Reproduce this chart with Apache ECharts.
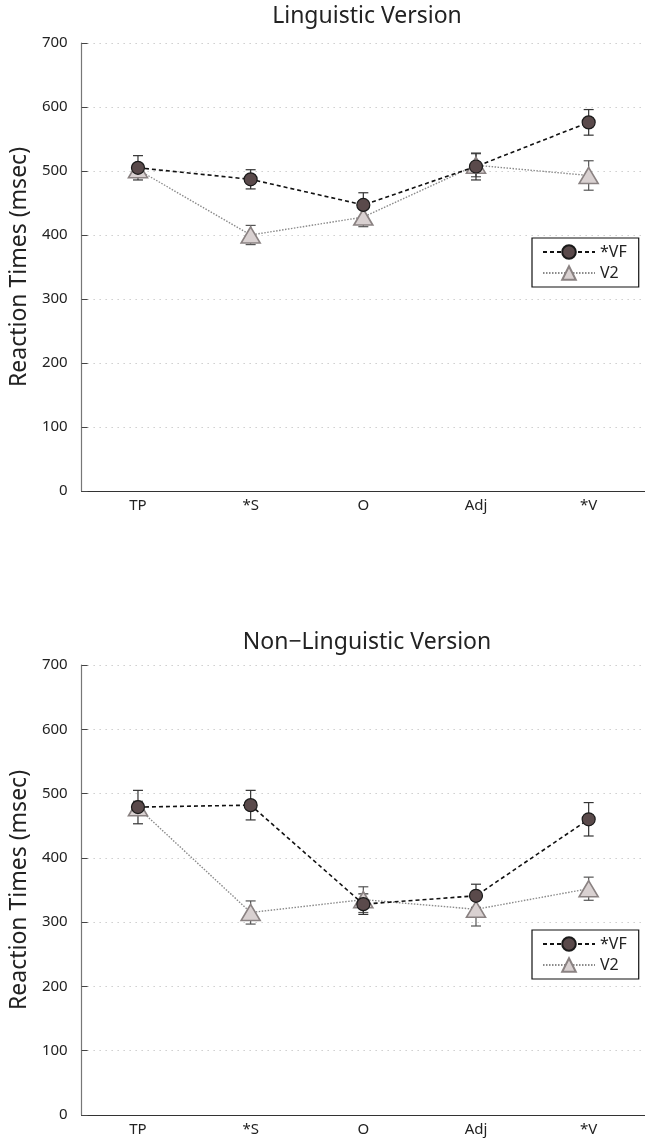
<!DOCTYPE html>
<html><head><meta charset="utf-8">
<script src="https://cdn.jsdelivr.net/npm/echarts@6/dist/echarts.min.js"></script>
<style>html,body{margin:0;padding:0;background:#fff}#c{width:645px;height:1146px}</style>
</head><body><div id="c"></div>
<script>
const categories = ['TP', '*S', 'O', 'Adj', '*V'];
const yTicks = [0, 100, 200, 300, 400, 500, 600, 700];
const titles = ['Linguistic Version', 'Non\u2212Linguistic Version'];
const seriesNames = ['*VF', 'V2'];

const lingVF = [505, 487, 447, 507, 576];
const lingVFErr = [19, 15, 19, 21, 20];
const lingV2 = [502, 400, 428, 509, 493];
const lingV2Err = [8, 15, 15, 18, 23];

const nonVF = [479, 482, 328, 341, 460];
const nonVFErr = [26, 23, 16, 18, 26];
const nonV2 = [478, 315, 335, 320, 352];
const nonV2Err = [10, 18, 20, 26, 18];

const FONT = 'Noto Sans';
const chart = echarts.init(document.getElementById('c'));

const grids = [
  {left: 77, top: 43, width: 574, height: 448},
  {left: 77, top: 665, width: 574, height: 450}
];

function xAxis(i) {
  return {
    type: 'category', gridIndex: i, data: categories, boundaryGap: true,
    axisLine: {lineStyle: {color: '#333', width: 1.2}},
    axisTick: {inside: true, length: 7, lineStyle: {color: '#444'}},
    axisLabel: {color: '#222', fontSize: 15, fontFamily: FONT, margin: 7},
    splitLine: {show: false}
  };
}
function yAxis(i) {
  return {
    type: 'value', gridIndex: i, min: yTicks[0], max: yTicks[yTicks.length - 1], interval: 100,
    name: 'Reaction Times (msec)', nameLocation: 'middle', nameRotate: 90, nameGap: 47,
    nameTextStyle: {fontSize: 23, color: '#222', fontFamily: FONT},
    axisLine: {show: true, lineStyle: {color: '#777', width: 1.2}},
    axisTick: {show: true, inside: true, length: 6, lineStyle: {color: '#444'}},
    axisLabel: {color: '#222', fontSize: 15, fontFamily: FONT, margin: 14},
    splitLine: {show: true, lineStyle: {color: '#b5b5b5', type: [1, 5], width: 1}}
  };
}

function errSeries(i, vals, errs, color) {
  return {
    type: 'custom', xAxisIndex: i, yAxisIndex: i, z: 3, silent: true,
    data: vals.map((v, k) => [k, v - errs[k], v + errs[k]]),
    encode: {x: 0, y: [1, 2]},
    renderItem: function (params, api) {
      const lo = api.coord([api.value(0), api.value(1)]);
      const hi = api.coord([api.value(0), api.value(2)]);
      const w = 5;
      const st = {stroke: color, lineWidth: 1.2};
      return {type: 'group', children: [
        {type: 'line', shape: {x1: lo[0], y1: lo[1], x2: hi[0], y2: hi[1]}, style: st},
        {type: 'line', shape: {x1: lo[0] - w, y1: lo[1], x2: lo[0] + w, y2: lo[1]}, style: st},
        {type: 'line', shape: {x1: hi[0] - w, y1: hi[1], x2: hi[0] + w, y2: hi[1]}, style: st}
      ]};
    }
  };
}

function vfSeries(i, vals) {
  return {
    name: seriesNames[0], type: 'line', xAxisIndex: i, yAxisIndex: i, data: vals, z: 5,
    symbol: 'circle', symbolSize: 13,
    lineStyle: {color: '#111', width: 1.6, type: [4, 3]},
    itemStyle: {color: '#5a4a4b', borderColor: '#1a1a1a', borderWidth: 1.2},
    emphasis: {disabled: true}
  };
}
function v2Series(i, vals) {
  return {
    name: seriesNames[1], type: 'line', xAxisIndex: i, yAxisIndex: i, data: vals, z: 4,
    symbol: 'triangle', symbolSize: [19, 16],
    lineStyle: {color: '#8a8a8a', width: 1.4, type: [1.5, 1.5]},
    itemStyle: {color: '#d9d1d1', borderColor: '#8a8282', borderWidth: 1.6},
    emphasis: {disabled: true}
  };
}

function legend(top) {
  return {
    data: seriesNames, orient: 'vertical', left: 532, top: top,
    padding: [6, 12, 6, 10], itemGap: 5, itemWidth: 52, itemHeight: 17,
    borderColor: '#111', borderWidth: 1.2, backgroundColor: '#fff',
    textStyle: {fontSize: 16, color: '#222', fontFamily: FONT},
    selectedMode: false
  };
}

chart.setOption({
  animation: false,
  title: [
    {text: titles[0], left: 362, textAlign: 'center', top: 0, textStyle: {fontSize: 23, fontWeight: 'normal', color: '#222', fontFamily: FONT}},
    {text: titles[1], left: 362, textAlign: 'center', top: 626, textStyle: {fontSize: 23, fontWeight: 'normal', color: '#222', fontFamily: FONT}}
  ],
  legend: [legend(238), legend(930)],
  grid: grids,
  xAxis: [xAxis(0), xAxis(1)],
  yAxis: [yAxis(0), yAxis(1)],
  series: [
    errSeries(0, lingV2, lingV2Err, '#555'),
    errSeries(0, lingVF, lingVFErr, '#333'),
    v2Series(0, lingV2),
    vfSeries(0, lingVF),
    errSeries(1, nonV2, nonV2Err, '#555'),
    errSeries(1, nonVF, nonVFErr, '#333'),
    v2Series(1, nonV2),
    vfSeries(1, nonVF)
  ]
});
</script></body></html>
